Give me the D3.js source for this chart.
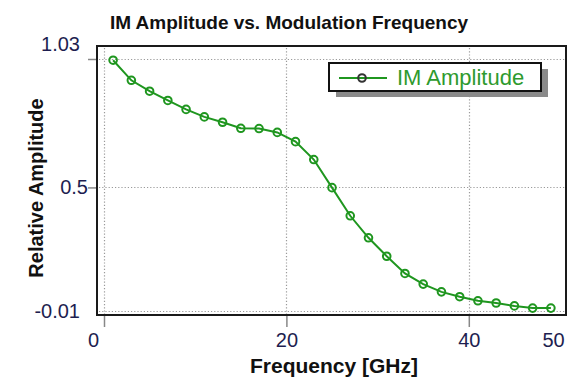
<!DOCTYPE html>
<html>
<head>
<meta charset="utf-8">
<script src="https://cdn.jsdelivr.net/npm/d3@7"></script>
<style>
  html, body { margin: 0; padding: 0; background: #fff; }
  svg { display: block; }
  text { font-family: "Liberation Sans", Arial, sans-serif; }
</style>
</head>
<body>
<svg id="chart" width="572" height="379"></svg>
<script>
// ---- data ----
const frequency = [1, 3, 5, 7, 9, 11, 13, 15, 17, 19, 21, 23, 25, 27, 29, 31, 33, 35, 37, 39, 41, 43, 45, 47, 49];
const amplitude = [1.025, 0.942, 0.897, 0.859, 0.822, 0.791, 0.769, 0.744, 0.743, 0.727, 0.689, 0.615, 0.499, 0.383, 0.292, 0.216, 0.145, 0.101, 0.069, 0.049, 0.032, 0.023, 0.011, 0.002, 0.002];
const xTicks = [0, 20, 40, 50];
const yTicks = [-0.01, 0.5, 1.03];
const yTickLabels = ["-0.01", "0.5", "1.03"];
const title = "IM Amplitude vs. Modulation Frequency";
const xTitle = "Frequency [GHz]";
const yTitle = "Relative Amplitude";
const seriesName = "IM Amplitude";

const svg = d3.select("#chart");
const frame = {left: 97, right: 566, top: 46, bottom: 315};

const x = d3.scaleLinear().domain([0, 50]).range([104, 560]);
const y = d3.scaleLinear().domain([-0.01, 1.03]).range([311, 59]);

const green = "#1f961f";

// grid
const grid = svg.append("g").attr("stroke", "#9a9a9a").attr("stroke-width", 1.2).attr("stroke-dasharray", "1.2,2");
grid.selectAll("line.v").data([0, 20, 40]).join("line")
  .attr("x1", d => Math.round(x(d)) + 0.5).attr("x2", d => Math.round(x(d)) + 0.5)
  .attr("y1", frame.top + 2).attr("y2", frame.bottom - 1);
grid.selectAll("line.h").data(yTicks).join("line")
  .attr("y1", d => Math.round(y(d)) + 0.5).attr("y2", d => Math.round(y(d)) + 0.5)
  .attr("x1", frame.left + 2).attr("x2", frame.right - 1);

// axes
const xAxis = d3.axisBottom(x).tickValues(xTicks).tickSize(12).tickPadding(6).tickFormat(d3.format("d"));
const gx = svg.append("g").attr("transform", `translate(0,${frame.bottom})`).call(xAxis);
gx.select(".domain").remove();
gx.selectAll(".tick line").attr("stroke", "#888").attr("stroke-width", 1.5);
gx.selectAll(".tick").filter(d => d === 50).select("line").remove();
gx.selectAll(".tick text")
  .attr("font-size", 20).attr("fill", "#1e1e50")
  .attr("font-family", "Liberation Sans, Arial, sans-serif")
  .attr("dx", d => d === 0 ? -11 : (d === 50 ? -7 : 0));

const yAxis = d3.axisLeft(y).tickValues(yTicks).tickSize(9).tickPadding(8)
  .tickFormat((d, i) => yTickLabels[i]);
const gy = svg.append("g").attr("transform", `translate(${frame.left},0)`).call(yAxis);
gy.select(".domain").remove();
gy.selectAll(".tick line").attr("stroke", "#888").attr("stroke-width", 1.5);
gy.selectAll(".tick").filter(d => d === -0.01).select("line").remove();
gy.selectAll(".tick text")
  .attr("font-size", 20).attr("fill", "#1e1e50")
  .attr("font-family", "Liberation Sans, Arial, sans-serif")
  .attr("dx", d => d === 0.5 ? 8 : 0)
  .attr("dy", d => d === 1.03 ? "-0.45em" : "0.32em");

// frame
svg.append("rect")
  .attr("x", frame.left).attr("y", frame.top)
  .attr("width", frame.right - frame.left).attr("height", frame.bottom - frame.top)
  .attr("fill", "none").attr("stroke", "#1a1a1a").attr("stroke-width", 2);

// line + markers
const line = d3.line().x((d, i) => x(frequency[i])).y(d => y(d));
svg.append("path").datum(amplitude)
  .attr("d", line).attr("fill", "none").attr("stroke", green).attr("stroke-width", 2);
svg.append("g").selectAll("circle").data(amplitude).join("circle")
  .attr("cx", (d, i) => x(frequency[i])).attr("cy", d => y(d)).attr("r", 3.8)
  .attr("fill", "none").attr("stroke", green).attr("stroke-width", 2);

// legend
const lg = svg.append("g");
const lb = {x: 329, y: 63, w: 212, h: 28};
lg.append("rect").attr("x", lb.x + 7).attr("y", lb.y + 6).attr("width", lb.w).attr("height", lb.h).attr("fill", "#8a8a8a");
lg.append("rect").attr("x", lb.x).attr("y", lb.y).attr("width", lb.w).attr("height", lb.h)
  .attr("fill", "#fff").attr("stroke", "#111").attr("stroke-width", 2);
lg.append("line").attr("x1", lb.x + 10).attr("x2", lb.x + 58).attr("y1", lb.y + 15).attr("y2", lb.y + 15)
  .attr("stroke", green).attr("stroke-width", 2);
lg.append("circle").attr("cx", lb.x + 33).attr("cy", lb.y + 15).attr("r", 3.8)
  .attr("fill", "none").attr("stroke", "#333").attr("stroke-width", 2);
lg.append("text").attr("x", lb.x + 68).attr("y", lb.y + 22).attr("font-size", 22)
  .attr("fill", "#2e9a2e").text(seriesName);

// titles
svg.append("text").attr("x", 289).attr("y", 29).attr("text-anchor", "middle")
  .attr("font-size", 19).attr("font-weight", "bold").attr("fill", "#111").text(title);
svg.append("text").attr("x", 334).attr("y", 373).attr("text-anchor", "middle")
  .attr("font-size", 21).attr("font-weight", "bold").attr("fill", "#111").text(xTitle);
svg.append("text").attr("transform", "translate(43,188) rotate(-90)").attr("text-anchor", "middle")
  .attr("font-size", 20).attr("font-weight", "bold").attr("fill", "#111").text(yTitle);
</script>
</body>
</html>
